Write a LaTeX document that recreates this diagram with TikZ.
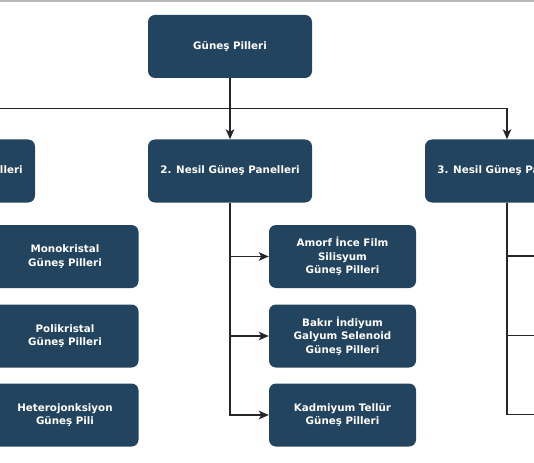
\documentclass[tikz,border=0pt]{standalone}
\usepackage{fontspec}
\setmainfont{DejaVu Sans}
\usetikzlibrary{arrows.meta}
\definecolor{panel}{RGB}{35,68,94}
\tikzset{
  panelbox/.style={fill=panel, rounded corners=7pt, text=white,
    font=\bfseries\fontsize{10.3}{13.6}\selectfont, align=center,
    minimum width=164pt, minimum height=63pt, inner sep=2pt},
  cellbox/.style={panelbox, minimum width=147pt},
  link/.style={line width=1.7pt, draw=black!85,
    -{Stealth[length=10pt,width=8.5pt,inset=2.5pt]}}
}

\begin{document}
\begin{tikzpicture}[x=1pt,y=-1pt]
  \useasboundingbox (0,0) rectangle (534,462);
  \clip (0,0) rectangle (534,462);
  \draw[gray!55, line width=1.5pt] (0,1) -- (534,1);

  \node[panelbox] (root) at (230,46.5) {Güneş Pilleri};

  \node[panelbox] (gen1) at (-47,171) {1. Nesil Güneş Panelleri};
  \node[panelbox] (gen2) at (230,171) {2. Nesil Güneş Panelleri};
  \node[panelbox] (gen3) at (507,171) {3. Nesil Güneş Panelleri};

  \node[cellbox] (mono)   at (65,256.5) {Monokristal\\Güneş Pilleri};
  \node[cellbox] (poli)   at (65,336)   {Polikristal\\Güneş Pilleri};
  \node[cellbox] (hetero) at (65,415)   {Heterojonksiyon\\Güneş Pili};

  \node[cellbox] (amorf) at (342.5,256.5) {Amorf İnce Film\\Silisyum\\Güneş Pilleri};
  \node[cellbox] (cigs)  at (342.5,336)   {Bakır İndiyum\\Galyum Selenoid\\Güneş Pilleri};
  \node[cellbox] (cdte)  at (342.5,415)   {Kadmiyum Tellür\\Güneş Pilleri};

  % ends of the third branch, outside the frame
  \coordinate (bus) at (230,108.5);
  \coordinate (r1) at (548,256);
  \coordinate (r2) at (548,335.5);
  \coordinate (r3) at (548,414.5);

  \draw[link] (root.south) -- (gen2.north);
  \draw[link] (bus) -| (gen1.north);
  \draw[link] (bus) -| (gen3.north);

  \draw[link] (gen1.south) |- (mono.west);
  \draw[link] (gen1.south) |- (poli.west);
  \draw[link] (gen1.south) |- (hetero.west);

  \draw[link] (gen2.south) |- (amorf.west);
  \draw[link] (gen2.south) |- (cigs.west);
  \draw[link] (gen2.south) |- (cdte.west);

  \draw[link] (gen3.south) |- (r1);
  \draw[link] (gen3.south) |- (r2);
  \draw[link] (gen3.south) |- (r3);
\end{tikzpicture}
\end{document}
